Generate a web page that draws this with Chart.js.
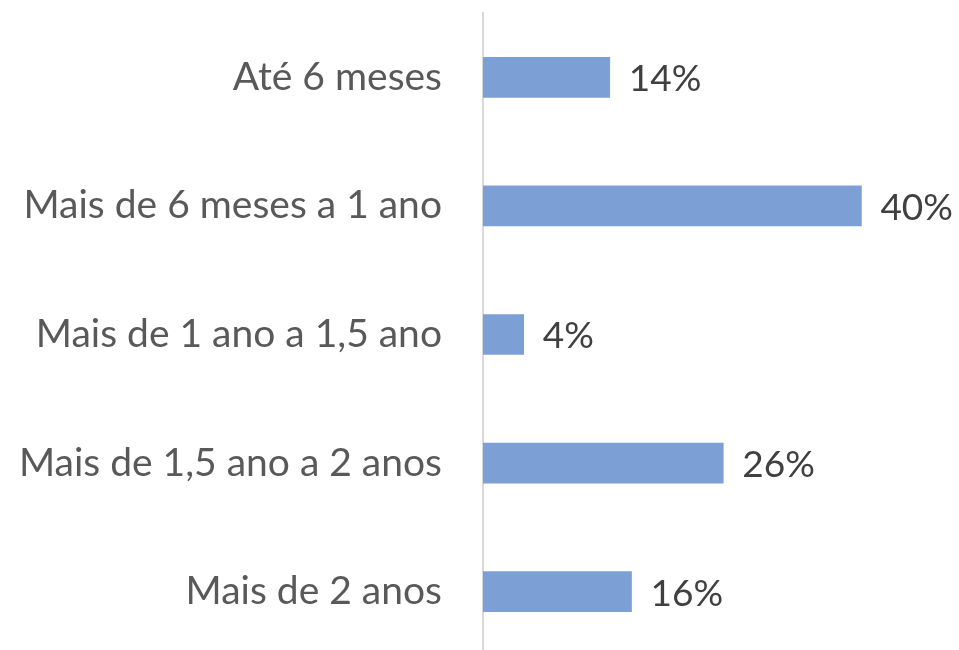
<!DOCTYPE html>
<html>
<head>
<meta charset="utf-8">
<script src="https://cdn.jsdelivr.net/npm/chart.js@4.4.1/dist/chart.umd.min.js"></script>
<style>
  html, body { margin: 0; padding: 0; background: #fff; overflow: hidden; }
  #wrap { position: relative; width: 959px; height: 656px; }
</style>
</head>
<body>
<div id="wrap"><canvas id="chart"></canvas></div>
<script>
// dados
const categorias = [
  "Até 6 meses",
  "Mais de 6 meses a 1 ano",
  "Mais de 1 ano a 1,5 ano",
  "Mais de 1,5 ano a 2 anos",
  "Mais de 2 anos"
];
const valores = [0.134, 0.400, 0.043, 0.254, 0.157];   // comprimento das barras
const rotulosTexto = ["14%", "40%", "4%", "26%", "16%"]; // rótulos exibidos
const eixoMax = 0.5;

const fonte = "Lato, 'Open Sans', sans-serif";
const corBarra = "#7c9fd6";

// rótulos de dados ao lado da barra
const rotulos = {
  id: "rotulos",
  afterDatasetsDraw(chart) {
    const ctx = chart.ctx;
    const meta = chart.getDatasetMeta(0);
    ctx.save();
    ctx.font = "37px " + fonte;
    ctx.fillStyle = "#404040";
    ctx.textAlign = "left";
    ctx.textBaseline = "middle";
    meta.data.forEach((bar, i) => {
      ctx.fillText(rotulosTexto[i], bar.x + 19, bar.y + 2);
    });
    ctx.restore();
  }
};

new Chart(document.getElementById("chart"), {
  type: "bar",
  data: {
    labels: categorias,
    datasets: [{
      data: valores,
      backgroundColor: corBarra,
      borderWidth: 0,
      barThickness: 40
    }]
  },
  options: {
    indexAxis: "y",
    responsive: true, maintainAspectRatio: false,
    animation: false,
    layout: { padding: { top: 13, right: 3, bottom: 0, left: 0 } },
    plugins: { legend: { display: false }, tooltip: { enabled: false } },
    scales: {
      x: { display: false, min: 0, max: eixoMax },
      y: {
        afterFit: s => { s.width = 483; s.paddingTop = 0; s.paddingBottom = 0; },
        grid: { display: true, drawOnChartArea: false, drawTicks: true, tickLength: 41, tickColor: "rgba(0,0,0,0)" },
        border: { display: true, color: "#d9d9d9", width: 2 },
        ticks: { color: "#595959", padding: 0, font: { family: fonte, size: 39 } }
      }
    }
  },
  plugins: [rotulos]
});
</script>
</body>
</html>
